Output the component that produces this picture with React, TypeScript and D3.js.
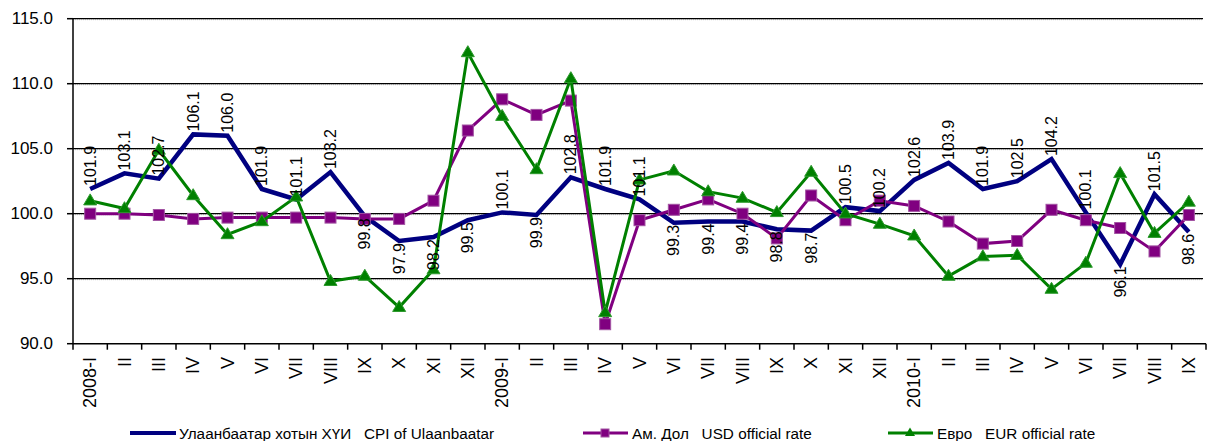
import React from "react";
import * as d3 from "d3";

const categories = [
  "2008-I", "II", "III", "IV", "V", "VI", "VII", "VIII", "IX", "X", "XI", "XII",
  "2009-I", "II", "III", "IV", "V", "VI", "VII", "VIII", "IX", "X", "XI", "XII",
  "2010-I", "II", "III", "IV", "V", "VI", "VII", "VIII", "IX",
];

const cpiUB = [
  101.9, 103.1, 102.7, 106.1, 106.0, 101.9, 101.1, 103.2, 99.8, 97.9, 98.2, 99.5,
  100.1, 99.9, 102.8, 101.9, 101.1, 99.3, 99.4, 99.4, 98.8, 98.7, 100.5, 100.2,
  102.6, 103.9, 101.9, 102.5, 104.2, 100.1, 96.1, 101.5, 98.6,
];

const usdRate = [
  100.0, 100.0, 99.9, 99.6, 99.7, 99.7, 99.7, 99.7, 99.6, 99.6, 101.0, 106.4,
  108.8, 107.6, 108.7, 91.5, 99.5, 100.3, 101.1, 100.0, 98.1, 101.4, 99.5, 101.0,
  100.6, 99.4, 97.7, 97.9, 100.3, 99.5, 98.9, 97.1, 99.9,
];

const eurRate = [
  101.0, 100.4, 104.9, 101.4, 98.4, 99.4, 101.3, 94.8, 95.2, 92.8, 95.7, 112.4,
  107.5, 103.4, 110.4, 92.4, 102.6, 103.3, 101.7, 101.2, 100.1, 103.2, 100.0, 99.2,
  98.3, 95.2, 96.7, 96.8, 94.2, 96.2, 103.1, 98.5, 100.9,
];

const yTicks = [90, 95, 100, 105, 110, 115];

const legendLabels = [
  "Улаанбаатар хотын ХҮИ   CPI of Ulaanbaatar",
  "Ам. Дол   USD official rate",
  "Евро   EUR official rate",
];

const FONT = "'Liberation Sans', Arial, sans-serif";
const NAVY = "#000080";
const PURPLE = "#800080";
const GREEN = "#008000";

const W = 1207;
const H = 441;
const left = 73;
const right = 1206;
const top = 18.7;
const bottom = 343.7;

function Square({ cx, cy }: { cx: number; cy: number }) {
  const s = 11;
  return (
    <rect x={cx - s / 2} y={cy - s / 2} width={s} height={s} fill={PURPLE} stroke="#a253a2" strokeWidth={1} />
  );
}

function Triangle({ cx, cy }: { cx: number; cy: number }) {
  const w = 13;
  const h = 11;
  const p = `${cx},${cy - h * 0.62} ${cx - w / 2},${cy + h * 0.38} ${cx + w / 2},${cy + h * 0.38}`;
  return <polygon points={p} fill={GREEN} stroke="#2e9a2e" strokeWidth={1} />;
}

export default function App() {
  const idx = categories.map((_, i) => i);
  const x = d3.scaleBand<number>().domain(idx).range([left, right]).padding(0);
  const y = d3.scaleLinear().domain([90, 115]).range([bottom, top]);
  const cx = (i: number) => (x(i) as number) + x.bandwidth() / 2;

  const line = d3
    .line<number>()
    .x((_, i) => cx(i))
    .y((d) => y(d));

  const boundaries = idx.map((i) => x(i) as number).concat([right]);

  return (
    <svg
      width={W}
      height={H}
      style={{ position: "absolute", left: 0, top: 0, background: "#fff" }}
      fontFamily={FONT}
    >
      {/* gridlines */}
      {yTicks
        .filter((t) => t > 90)
        .map((t) => (
          <g key={"g" + t}>
            <line x1={left} x2={1203} y1={y(t) + 1} y2={y(t) + 1} stroke="#c8c8c8" strokeWidth={1} strokeDasharray="1,1" />
            <line x1={left} x2={1203} y1={y(t)} y2={y(t)} stroke="#000" strokeWidth={1.3} />
          </g>
        ))}

      {/* y axis */}
      <line x1={left} x2={left} y1={top} y2={bottom} stroke="#000" strokeWidth={1.5} />
      {yTicks.map((t) => (
        <g key={"yt" + t}>
          <line x1={left - 6} x2={left} y1={y(t)} y2={y(t)} stroke="#000" strokeWidth={1.5} />
          <text x={53} y={y(t)} textAnchor="end" dominantBaseline="central" fontSize={17} fill="#000">
            {d3.format(".1f")(t)}
          </text>
        </g>
      ))}

      {/* x axis */}
      <line x1={left} x2={right} y1={bottom} y2={bottom} stroke="#000" strokeWidth={1.5} />
      {boundaries.map((b, i) => (
        <line key={"xt" + i} x1={b} x2={b} y1={bottom} y2={bottom + 6} stroke="#000" strokeWidth={1.5} />
      ))}
      {categories.map((c, i) => (
        <text
          key={"xl" + i}
          transform={`translate(${cx(i)},${357}) rotate(-90)`}
          textAnchor="end"
          dominantBaseline="central"
          fontSize={18}
          fill="#000"
        >
          {c}
        </text>
      ))}

      {/* series lines */}
      <path d={line(cpiUB) || ""} fill="none" stroke={NAVY} strokeWidth={4.5} strokeLinejoin="miter" />
      <path d={line(usdRate) || ""} fill="none" stroke={PURPLE} strokeWidth={3} />
      {usdRate.map((v, i) => (
        <Square key={"sq" + i} cx={cx(i)} cy={y(v)} />
      ))}
      <path d={line(eurRate) || ""} fill="none" stroke={GREEN} strokeWidth={3} />
      {eurRate.map((v, i) => (
        <Triangle key={"tr" + i} cx={cx(i)} cy={y(v)} />
      ))}

      {/* data labels for CPI */}
      {cpiUB.map((v, i) => {
        const below = v < 100;
        const py = y(v);
        return (
          <text
            key={"dl" + i}
            transform={`translate(${cx(i)},${below ? py + 2 : py - 3}) rotate(-90)`}
            textAnchor={below ? "end" : "start"}
            dominantBaseline="central"
            fontSize={16}
            fill="#000"
          >
            {d3.format(".1f")(v)}
          </text>
        );
      })}

      {/* legend */}
      <g fontSize={15.3} fill="#000">
        <line x1={130} x2={176} y1={433} y2={433} stroke={NAVY} strokeWidth={4} />
        <text x={179} y={433} dominantBaseline="central" style={{ whiteSpace: "pre" }}>
          {legendLabels[0]}
        </text>

        <line x1={583} x2={628} y1={433} y2={433} stroke={PURPLE} strokeWidth={3} />
        <rect x={601} y={429} width={8} height={8} fill={PURPLE} stroke="#a253a2" strokeWidth={1} />
        <text x={632} y={433} dominantBaseline="central" style={{ whiteSpace: "pre" }}>
          {legendLabels[1]}
        </text>

        <line x1={888} x2={933} y1={433} y2={433} stroke={GREEN} strokeWidth={3} />
        <polygon points={`910,427.5 905,436 915,436`} fill={GREEN} />
        <text x={937} y={433} dominantBaseline="central" style={{ whiteSpace: "pre" }}>
          {legendLabels[2]}
        </text>
      </g>
    </svg>
  );
}
